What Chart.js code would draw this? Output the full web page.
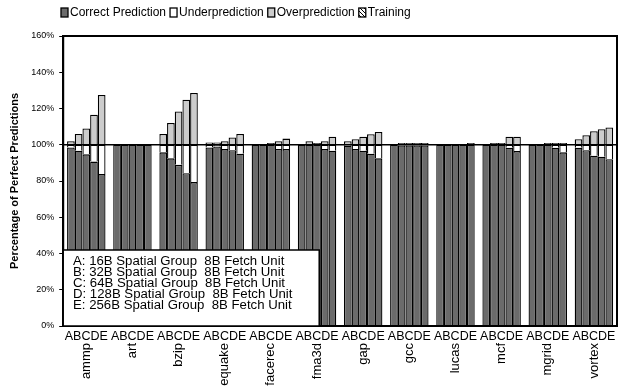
<!DOCTYPE html>
<html>
<head>
<meta charset="utf-8">
<script src="https://cdn.jsdelivr.net/npm/chart.js@4"></script>
<style>
  body { margin: 0; background: #fff; }
</style>
</head>
<body>
<canvas id="predChart" width="628" height="388"></canvas>
<script>
// benchmarks on the x axis
const benchmarks = ['ammp', 'art', 'bzip', 'equake', 'facerec', 'fma3d', 'gap', 'gcc', 'lucas', 'mcf', 'mgrid', 'vortex'];
const configs = ['A', 'B', 'C', 'D', 'E'];
const yTicks = [0, 20, 40, 60, 80, 100, 120, 140, 160];

// correct prediction (% of perfect), per config
const correctA = [98.5, 100, 95.8, 98.5, 100, 100, 99.5, 100, 100, 100, 100, 98.4];
const correctB = [96.7, 100, 92.5, 99, 100, 100, 97.6, 99.6, 100, 100, 100, 97];
const correctC = [94.7, 100, 88.9, 97.6, 100, 100, 96.7, 99.6, 100, 100, 100, 94];
const correctD = [90.7, 100, 84.3, 97, 97.6, 97.6, 95, 99.6, 100, 98.4, 98.4, 93.4];
const correctE = [83.8, 100, 79.4, 95, 97.6, 96.7, 92.5, 99.6, 100, 96.5, 95.8, 92];

// overprediction (% above perfect), per config
const overA = [2, 0, 6, 1.3, 0, 0, 2, 0, 0, 0, 0, 3];
const overB = [6, 0, 12, 1.3, 0, 2, 3, 1, 0, 1, 0, 5.3];
const overC = [9, 0, 18.4, 2, 1, 1, 4.4, 1, 0, 1, 1, 7.5];
const overD = [16.6, 0, 24.8, 4, 2, 2, 5.8, 1, 0, 4.4, 1, 8.6];
const overE = [27.5, 0, 28.6, 6, 3.4, 4.4, 7, 1, 1, 4.4, 1, 9.5];

const correctSets = [correctA, correctB, correctC, correctD, correctE];
const overSets = [overA, overB, overC, overD, overE];

const legendText = [
  'A: 16B Spatial Group  8B Fetch Unit',
  'B: 32B Spatial Group  8B Fetch Unit',
  'C: 64B Spatial Group  8B Fetch Unit',
  'D: 128B Spatial Group  8B Fetch Unit',
  'E: 256B Spatial Group  8B Fetch Unit'
];

const DARK = '#6b6b6b';
const LIGHT = '#cccccc';
const FONT = "'Liberation Sans', Arial, sans-serif";

function nz(v) { return v > 0 ? v : null; }

// hatch for the Training legend box
const hatch = document.createElement('canvas');
hatch.width = 4; hatch.height = 4;
const hctx = hatch.getContext('2d');
hctx.fillStyle = '#fff'; hctx.fillRect(0, 0, 4, 4);
hctx.strokeStyle = '#000'; hctx.lineWidth = 1;
hctx.beginPath(); hctx.moveTo(0, 0); hctx.lineTo(4, 4); hctx.stroke();

const datasets = [];
configs.forEach(function (c, i) {
  const base = { stack: c, borderColor: '#000', borderWidth: 1.3, categoryPercentage: 5 / 6, barPercentage: 1, xAxisID: 'x' };
  datasets.push(Object.assign({ label: 'Correct Prediction ' + c, data: correctSets[i].map(nz), backgroundColor: DARK }, base));
  datasets.push(Object.assign({ label: 'Underprediction ' + c, data: correctSets[i].map(function (v) { return nz(+(100 - v).toFixed(2)); }), backgroundColor: '#fff' }, base));
  datasets.push(Object.assign({ label: 'Overprediction ' + c, data: overSets[i].map(nz), backgroundColor: LIGHT }, base));
});

// top legend, plot frame, 100% line and the config key
const decor = {
  id: 'decor',
  afterDatasetsDraw(chart) {
    const ctx = chart.ctx;
    const a = chart.chartArea;
    const y = chart.scales.y;
    ctx.save();
    // 100% line
    ctx.strokeStyle = '#000';
    ctx.lineWidth = 1.5;
    ctx.beginPath();
    ctx.moveTo(a.left, y.getPixelForValue(100));
    ctx.lineTo(a.right, y.getPixelForValue(100));
    ctx.stroke();
    // frame
    ctx.lineWidth = 2;
    ctx.strokeRect(a.left, a.top, a.right - a.left, a.bottom - a.top);
    // config key box
    ctx.fillStyle = '#fff';
    ctx.lineWidth = 1.5;
    ctx.fillRect(a.left, 250, 256, a.bottom - 250);
    ctx.strokeRect(a.left, 250, 256, a.bottom - 250);
    ctx.fillStyle = '#000';
    ctx.font = '12px ' + FONT;
    ctx.textBaseline = 'middle';
    legendText.forEach(function (t, i) {
      ctx.save();
      ctx.translate(73, 261.5 + i * 11.1);
      ctx.scale(1.1, 1);
      ctx.fillText(t, 0, 0);
      ctx.restore();
    });
    // series legend
    const items = [
      ['Correct Prediction', DARK],
      ['Underprediction', '#fff'],
      ['Overprediction', LIGHT],
      ['Training', ctx.createPattern(hatch, 'repeat')]
    ];
    ctx.font = '12px ' + FONT;
    let x = 61;
    items.forEach(function (it) {
      ctx.fillStyle = it[1];
      ctx.fillRect(x, 8, 7, 9);
      ctx.lineWidth = 1.3;
      ctx.strokeStyle = '#000';
      ctx.strokeRect(x, 8, 7, 9);
      ctx.fillStyle = '#000';
      ctx.fillText(it[0], x + 9, 13);
      x += 9 + ctx.measureText(it[0]).width + 4;
    });
    ctx.restore();
  }
};

new Chart(document.getElementById('predChart'), {
  type: 'bar',
  data: { labels: benchmarks, datasets: datasets },
  options: {
    responsive: false,
    animation: false,
    layout: { padding: { top: 36, right: 11, left: 8, bottom: 0 } },
    plugins: { legend: { display: false }, tooltip: { enabled: false } },
    scales: {
      x: {
        stacked: true,
        weight: 1,
        grid: { display: false, drawTicks: false },
        border: { color: '#000', width: 2 },
        afterFit: function (s) { s.height = 17; },
        ticks: {
          color: '#000', font: { family: FONT, size: 12.5, lineHeight: 1 }, maxRotation: 0, autoSkip: false, padding: 4,
          callback: function () { return configs.join(''); }
        }
      },
      x2: {
        type: 'category',
        position: 'bottom',
        weight: 2,
        offset: true,
        grid: { display: false, drawTicks: false },
        border: { display: false },
        afterFit: function (s) { s.height = 45; },
        ticks: { color: '#000', font: { family: FONT, size: 13 }, minRotation: 90, maxRotation: 90, autoSkip: false, padding: 0 }
      },
      y: {
        stacked: true,
        min: 0,
        max: 160,
        afterBuildTicks: function (s) { s.ticks = yTicks.map(function (v) { return { value: v }; }); },
        grid: { drawOnChartArea: false, drawTicks: true, tickLength: 4, color: '#000' },
        border: { color: '#000', width: 2 },
        ticks: { color: '#000', font: { family: FONT, size: 9 }, padding: 5, callback: function (v) { return v + '%'; } },
        title: { display: true, text: 'Percentage of Perfect Predictions', color: '#000', font: { family: FONT, size: 11, weight: 'bold' }, padding: { top: 0, bottom: 5 } }
      }
    }
  },
  plugins: [decor]
});
</script>
</body>
</html>
